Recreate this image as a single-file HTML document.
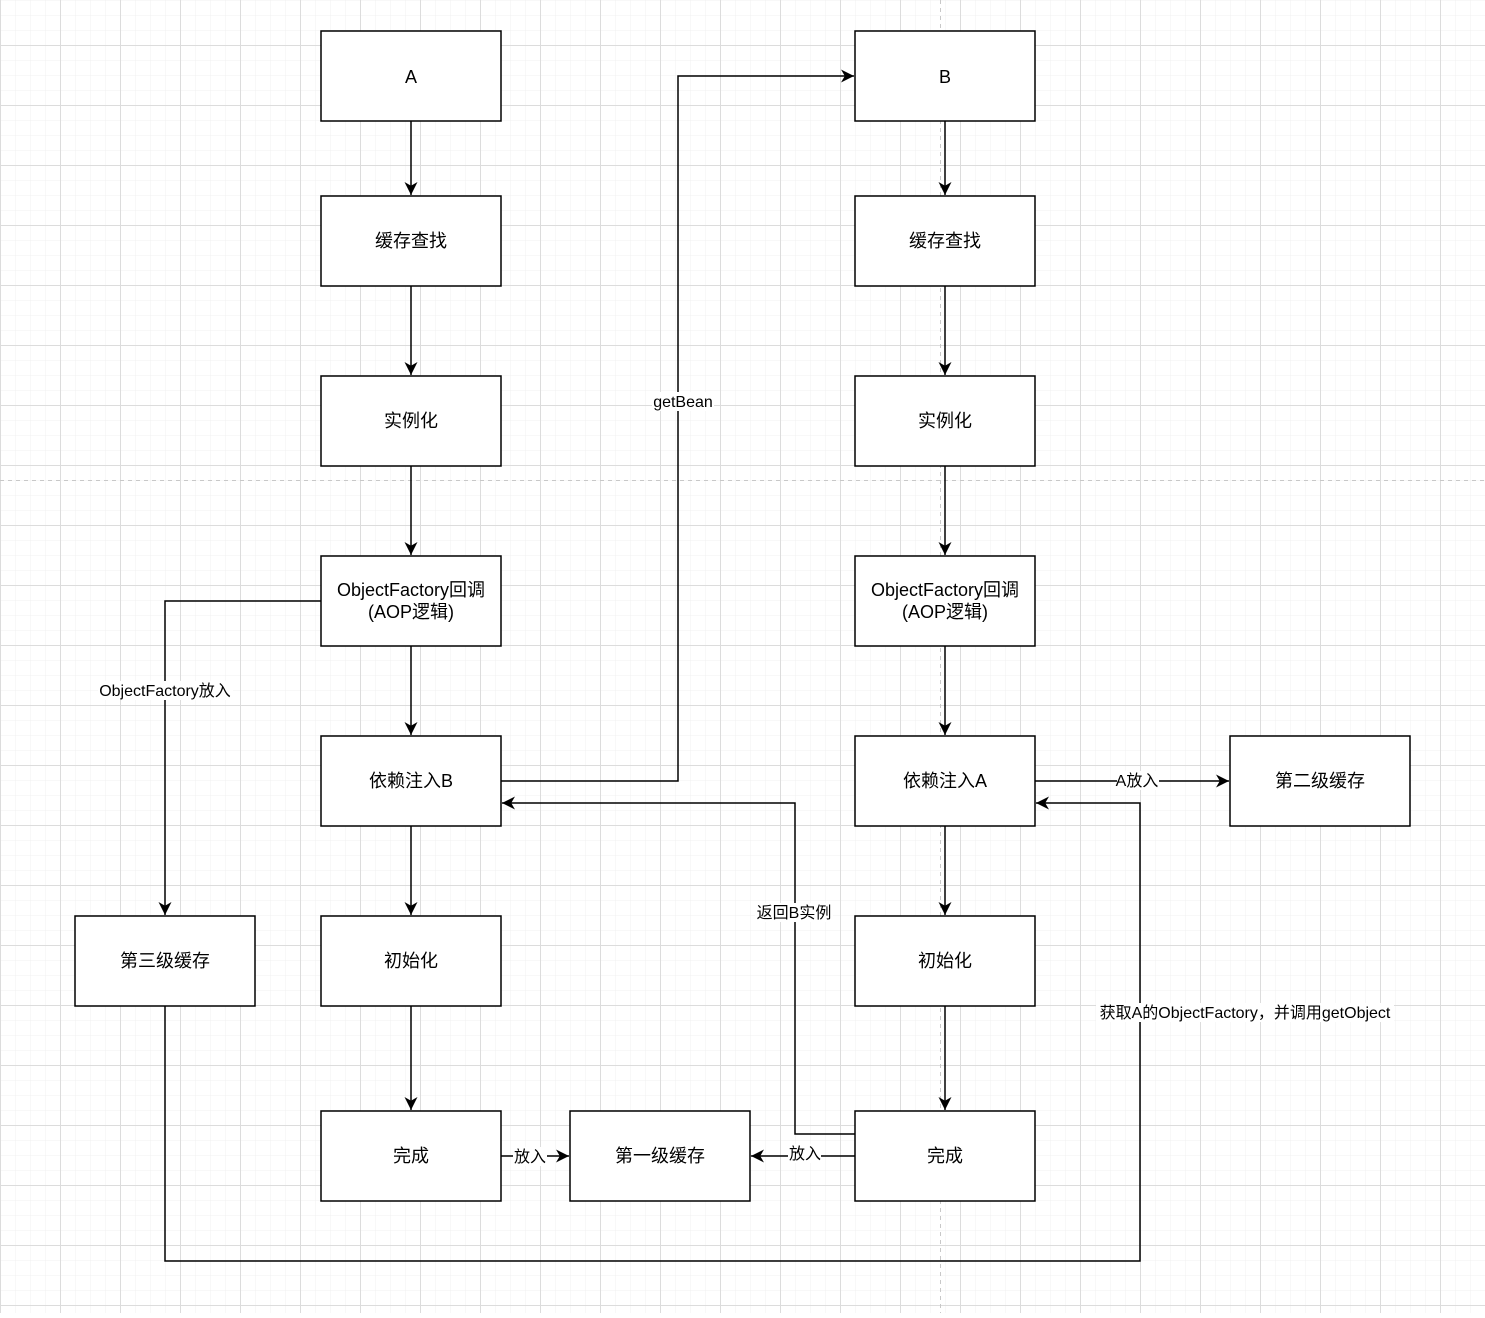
<!DOCTYPE html>
<html><head><meta charset="utf-8"><style>
html,body{margin:0;padding:0;background:#fff;}
svg text{font-family:"Liberation Sans","Noto Sans CJK SC",sans-serif;font-size:18px;fill:#000;}
svg text.lbl{font-size:16px;}
</style></head><body>
<svg width="1485" height="1313" viewBox="0 0 1485 1313" xmlns="http://www.w3.org/2000/svg">
<defs>
<pattern id="minor" width="15" height="15" patternUnits="userSpaceOnUse" x="0" y="0">
<path d="M0 0 V15 M0 0 H15" stroke="#f0f0f0" stroke-width="1" fill="none"/>
</pattern>
<pattern id="major" width="60" height="60" patternUnits="userSpaceOnUse" x="0" y="45">
<path d="M0.5 0 V60 M0 0.5 H60" stroke="#dcdcdc" stroke-width="1" fill="none"/>
</pattern>
<marker id="ar" viewBox="0 0 12 12" refX="12" refY="6" markerWidth="13" markerHeight="13" markerUnits="userSpaceOnUse" orient="auto">
<path d="M0 0 L12 6 L0 12 L3.5 6 Z" fill="#000"/>
</marker>
</defs>
<rect width="1485" height="1313" fill="#fff"/>
<rect width="1485" height="1313" fill="url(#minor)"/>
<rect width="1485" height="1313" fill="url(#major)"/>
<line x1="940.5" y1="0" x2="940.5" y2="1313" stroke="#c8c8c8" stroke-dasharray="4,4"/>
<line x1="0" y1="480.5" x2="1485" y2="480.5" stroke="#c8c8c8" stroke-dasharray="4,4"/>

<g stroke="#000" stroke-width="1.5" fill="none" marker-end="url(#ar)">
<path d="M411 121 V195"/><path d="M411 286 V375"/><path d="M411 466 V555"/><path d="M411 646 V735"/><path d="M411 826 V915"/><path d="M411 1006 V1110"/>
<path d="M945 121 V195"/><path d="M945 286 V375"/><path d="M945 466 V555"/><path d="M945 646 V735"/><path d="M945 826 V915"/><path d="M945 1006 V1110"/>
<path d="M501 781 H678 V76 H854"/>
<path d="M855 1134 H795 V803 H502"/>
<path d="M321 601 H165 V915"/>
<path d="M165 1006 V1261 H1140 V803 H1036"/>
<path d="M1035 781 H1229"/>
<path d="M501 1156 H569"/>
<path d="M855 1156 H751"/>
</g>

<g fill="#fff" stroke="#000" stroke-width="1.5">
<rect x="321" y="31" width="180" height="90"/>
<rect x="321" y="196" width="180" height="90"/>
<rect x="321" y="376" width="180" height="90"/>
<rect x="321" y="556" width="180" height="90"/>
<rect x="321" y="736" width="180" height="90"/>
<rect x="321" y="916" width="180" height="90"/>
<rect x="321" y="1111" width="180" height="90"/>
<rect x="855" y="31" width="180" height="90"/>
<rect x="855" y="196" width="180" height="90"/>
<rect x="855" y="376" width="180" height="90"/>
<rect x="855" y="556" width="180" height="90"/>
<rect x="855" y="736" width="180" height="90"/>
<rect x="855" y="916" width="180" height="90"/>
<rect x="855" y="1111" width="180" height="90"/>
<rect x="75" y="916" width="180" height="90"/>
<rect x="1230" y="736" width="180" height="90"/>
<rect x="570" y="1111" width="180" height="90"/>
</g>

<g text-anchor="middle">
<text x="411" y="83">A</text>
<text x="411" y="247">缓存查找</text>
<text x="411" y="427">实例化</text>
<text x="411" y="596">ObjectFactory回调</text>
<text x="411" y="618">(AOP逻辑)</text>
<text x="411" y="787">依赖注入B</text>
<text x="411" y="967">初始化</text>
<text x="411" y="1162">完成</text>
<text x="945" y="83">B</text>
<text x="945" y="247">缓存查找</text>
<text x="945" y="427">实例化</text>
<text x="945" y="596">ObjectFactory回调</text>
<text x="945" y="618">(AOP逻辑)</text>
<text x="945" y="787">依赖注入A</text>
<text x="945" y="967">初始化</text>
<text x="945" y="1162">完成</text>
<text x="165" y="967">第三级缓存</text>
<text x="1320" y="787">第二级缓存</text>
<text x="660" y="1162">第一级缓存</text>
</g>

<g fill="#fff">
<rect x="652" y="392" width="62" height="19"/>
<rect x="98" y="681" width="135" height="19"/>
<rect x="755" y="903" width="78" height="19"/>
<rect x="1117" y="771" width="42" height="19"/>
<rect x="513" y="1147" width="34" height="19"/>
<rect x="788" y="1144" width="33" height="19"/>
<rect x="1096" y="1003" width="298" height="19"/>
</g>
<g text-anchor="middle">
<text class="lbl" x="683" y="407">getBean</text>
<text class="lbl" x="165" y="696">ObjectFactory放入</text>
<text class="lbl" x="794" y="918">返回B实例</text>
<text class="lbl" x="1137" y="786">A放入</text>
<text class="lbl" x="530" y="1162">放入</text>
<text class="lbl" x="805" y="1159">放入</text>
<text class="lbl" x="1245" y="1018">获取A的ObjectFactory，并调用getObject</text>
</g>
</svg>
</body></html>
